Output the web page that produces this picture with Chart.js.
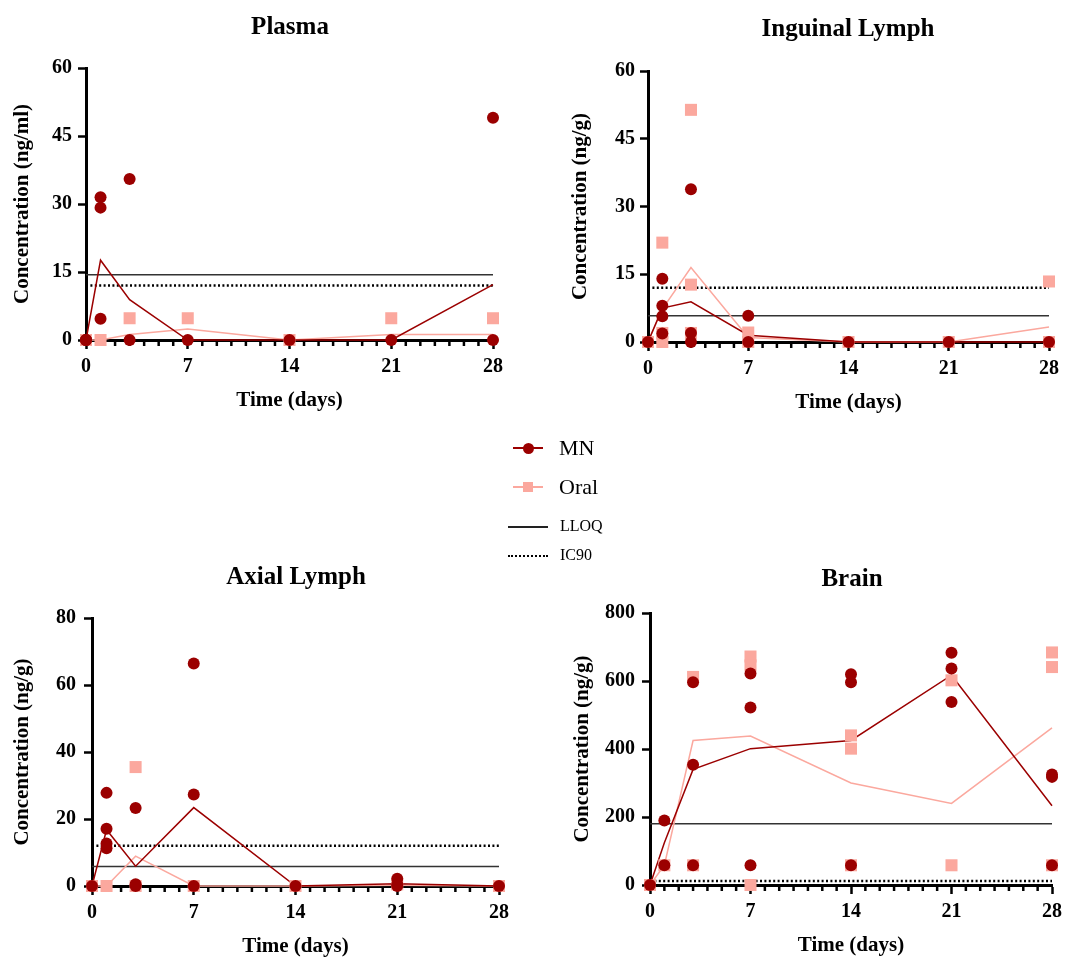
<!DOCTYPE html>
<html>
<head>
<meta charset="utf-8">
<script src="https://cdn.jsdelivr.net/npm/chart.js@4.4.1/dist/chart.umd.min.js"></script>
<style>
  body { margin: 0; background: #fff; overflow: hidden; width: 1070px; height: 957px; position: relative;
         font-family: 'Liberation Serif', 'Times New Roman', serif; color: #000; }
  canvas { position: absolute; }
  .ttl { position: absolute; font-weight: bold; font-size: 25px; line-height: 1; white-space: nowrap;
         transform: translate(-50%, -50%); }
  .lg { position: absolute; white-space: nowrap; }
</style>
</head>
<body>
<canvas id="plasma" width="535" height="420" style="left:0;top:0"></canvas>
<canvas id="inguinal" width="535" height="420" style="left:535px;top:0"></canvas>
<canvas id="axial" width="535" height="545" style="left:0;top:420px"></canvas>
<canvas id="brain" width="535" height="545" style="left:535px;top:420px"></canvas>

<div class="ttl" style="left:290px;top:25px">Plasma</div>
<div class="ttl" style="left:848px;top:27px">Inguinal Lymph</div>
<div class="ttl" style="left:296px;top:575px">Axial Lymph</div>
<div class="ttl" style="left:852px;top:577px">Brain</div>

<!-- legend -->
<div class="lg" style="left:513px;top:447px;width:30px;height:2px;background:#9b0000"></div>
<div class="lg" style="left:523px;top:443px;width:11px;height:11px;border-radius:50%;background:#9b0000"></div>
<div class="lg" style="left:559px;top:434px;font-size:22px;line-height:28px">MN</div>
<div class="lg" style="left:513px;top:486px;width:30px;height:2px;background:#fba89e"></div>
<div class="lg" style="left:523px;top:482px;width:10px;height:10px;background:#fba89e"></div>
<div class="lg" style="left:559px;top:473px;font-size:22px;line-height:28px">Oral</div>
<div class="lg" style="left:508px;top:526px;width:40px;height:2px;background:#222"></div>
<div class="lg" style="left:560px;top:516px;font-size:16px;line-height:20px">LLOQ</div>
<div class="lg" style="left:508px;top:555px;width:40px;border-top:2px dotted #000"></div>
<div class="lg" style="left:560px;top:545px;font-size:16px;line-height:20px">IC90</div>

<script>
// sampling days and axis ticks
const days = [0, 1, 3, 7, 14, 21, 28];
const dayTicks = [0, 7, 14, 21, 28];
const lymphTicks = [0, 15, 30, 45, 60];
const axialTicks = [0, 20, 40, 60, 80];
const brainTicks = [0, 200, 400, 600, 800];

const IC90 = 12;
const plasmaLLOQ = 14.4;
const inguinalLLOQ = 5.8;
const axialLLOQ = 5.8;
const brainLLOQ = 180;

// individual animals, one list per day
const plasmaMN = [[0, 0, 0], [31.5, 29.2, 4.7], [35.5, 0], [0], [0], [0], [49, 0]];
const plasmaOral = [[0], [0], [4.8], [4.8], [0], [4.8], [4.8]];
const plasmaMNMean = [0, 17.6, 8.9, 0, 0, 0, 12.2];
const plasmaOralMean = [0, 0, 1.2, 2.4, 0, 1.2, 1.2];

const inguinalMN = [[0], [14, 8.0, 5.7, 1.9], [33.8, 2.0, 0], [5.8, 0], [0], [0], [0]];
const inguinalOral = [[0], [22, 2, 0], [51.4, 12.7, 2], [2.1, 0], [0], [0], [13.4, 0]];
const inguinalMNMean = [0, 7.5, 8.9, 1.5, 0, 0, 0];
const inguinalOralMean = [0, 7.3, 16.5, 1.0, 0, 0, 3.3];

const axialMN = [[0], [27.8, 17.1, 12.7, 11.3], [23.3, 0.5, 0], [66.4, 27.3, 0], [0], [2.2, 0.5, 0], [0]];
const axialOral = [[0], [0], [35.5, 0], [0], [0], [0.5], [0]];
const axialMNMean = [0, 16.8, 5.9, 23.4, 0, 0.7, 0];
const axialOralMean = [0, 0, 8.9, 0, 0, 0.2, 0];

const brainMN = [[0], [190, 58], [596, 354, 58], [622, 522, 58], [620, 596, 58], [683, 637, 538], [325, 318, 58]];
const brainOral = [[0], [58], [612, 58], [672, 646, 0], [440, 401, 58], [602, 58], [684, 641, 58]];
const brainMNMean = [0, 124, 340, 401, 425, 617, 233];
const brainOralMean = [0, 58, 425, 438, 300, 240, 462];

const MN_COLOR = '#9b0000';
const ORAL_COLOR = '#fba89e';
const SERIF = "'Liberation Serif', 'Times New Roman', serif";

function toPoints(groups) {
  const out = [];
  groups.forEach((g, i) => g.forEach(v => out.push({ x: days[i], y: v })));
  return out;
}
function toLine(vals) {
  return vals.map((v, i) => ({ x: days[i], y: v }));
}
function flat(v) {
  return [{ x: days[0], y: v }, { x: days[days.length - 1], y: v }];
}

// short ticks for every day between the labelled ones
const minorTicks = {
  id: 'minorTicks',
  beforeDatasetsDraw(chart) {
    const sx = chart.scales.x, ctx = chart.ctx, y0 = chart.chartArea.bottom;
    ctx.save();
    ctx.strokeStyle = '#000';
    ctx.lineWidth = 2.5;
    for (let d = days[0]; d <= days[days.length - 1]; d++) {
      if (dayTicks.includes(d)) continue;
      const px = sx.getPixelForValue(d);
      ctx.beginPath();
      ctx.moveTo(px, y0);
      ctx.lineTo(px, y0 + 6);
      ctx.stroke();
    }
    ctx.restore();
  }
};

function panel(id, cfg) {
  const ctx = document.getElementById(id);
  new Chart(ctx, {
    type: 'scatter',
    data: {
      datasets: [
        { data: toPoints(cfg.mn), pointStyle: 'circle', pointRadius: 6, backgroundColor: MN_COLOR,
          borderWidth: 0, order: 0, clip: false },
        { data: toPoints(cfg.oral), pointStyle: 'rect', pointRadius: 8.5, backgroundColor: ORAL_COLOR,
          borderWidth: 0, order: 1, clip: false },
        { data: toLine(cfg.mnMean), showLine: true, pointRadius: 0, borderColor: MN_COLOR,
          borderWidth: 1.5, order: 2, clip: false },
        { data: toLine(cfg.oralMean), showLine: true, pointRadius: 0, borderColor: ORAL_COLOR,
          borderWidth: 1.5, order: 3, clip: false },
        { data: flat(cfg.lloq), showLine: true, pointRadius: 0, borderColor: '#333',
          borderWidth: 1.5, order: 4, clip: false },
        { data: flat(IC90), showLine: true, pointRadius: 0, borderColor: '#000',
          borderWidth: 2.5, borderDash: [2, 2.4], order: 5, clip: false }
      ]
    },
    options: {
      responsive: false,
      animation: false,
      devicePixelRatio: 1,
      layout: { padding: { top: cfg.top, right: cfg.right, left: 0, bottom: 0 } },
      plugins: { legend: { display: false }, tooltip: { enabled: false } },
      scales: {
        x: {
          type: 'linear', min: dayTicks[0], max: dayTicks[dayTicks.length - 1],
          afterFit(s) { s.height = cfg.xh; },
          afterBuildTicks(s) { s.ticks = dayTicks.map(v => ({ value: v })); },
          border: { color: '#000', width: 3 },
          grid: { drawOnChartArea: false, tickLength: 9, tickWidth: 2.5, tickColor: '#000' },
          ticks: { color: '#000', padding: 6, maxRotation: 0,
                   font: { family: SERIF, size: 20, weight: 'bold' } },
          title: { display: true, text: 'Time (days)', color: '#000', padding: { top: 0, bottom: cfg.xtp },
                   font: { family: SERIF, size: 21, weight: 'bold' } }
        },
        y: {
          type: 'linear', min: cfg.yTicks[0], max: cfg.yTicks[cfg.yTicks.length - 1],
          afterFit(s) { s.width = cfg.yw; },
          afterBuildTicks(s) { s.ticks = cfg.yTicks.map(v => ({ value: v })); },
          border: { color: '#000', width: 3 },
          grid: { drawOnChartArea: false, tickLength: 8, tickWidth: 2.5, tickColor: '#000' },
          ticks: { color: '#000', padding: cfg.ypad,
                   font: { family: SERIF, size: 20, weight: 'bold' } },
          title: { display: true, text: cfg.yTitle, color: '#000', padding: { top: cfg.ytp, bottom: 0 },
                   font: { family: SERIF, size: 21, weight: 'bold' } }
        }
      }
    },
    plugins: [minorTicks]
  });
}

panel('plasma', { mn: plasmaMN, oral: plasmaOral, mnMean: plasmaMNMean, oralMean: plasmaOralMean,
  lloq: plasmaLLOQ, yTicks: lymphTicks, yTitle: 'Concentration (ng/ml)',
  top: 68, right: 42, xh: 80, yw: 86, xtp: 6.4, ytp: 10.4, ypad: 6 });
panel('inguinal', { mn: inguinalMN, oral: inguinalOral, mnMean: inguinalMNMean, oralMean: inguinalOralMean,
  lloq: inguinalLLOQ, yTicks: lymphTicks, yTitle: 'Concentration (ng/g)',
  top: 71, right: 21, xh: 78, yw: 113, xtp: 4.4, ytp: 33.4, ypad: 5 });
panel('axial', { mn: axialMN, oral: axialOral, mnMean: axialMNMean, oralMean: axialOralMean,
  lloq: axialLLOQ, yTicks: axialTicks, yTitle: 'Concentration (ng/g)',
  top: 198, right: 36, xh: 79, yw: 92, xtp: 5.4, ytp: 10.4, ypad: 8 });
panel('brain', { mn: brainMN, oral: brainOral, mnMean: brainMNMean, oralMean: brainOralMean,
  lloq: brainLLOQ, yTicks: brainTicks, yTitle: 'Concentration (ng/g)',
  top: 193, right: 18, xh: 80, yw: 115, xtp: 6.4, ytp: 35.4, ypad: 7 });
</script>
</body>
</html>
